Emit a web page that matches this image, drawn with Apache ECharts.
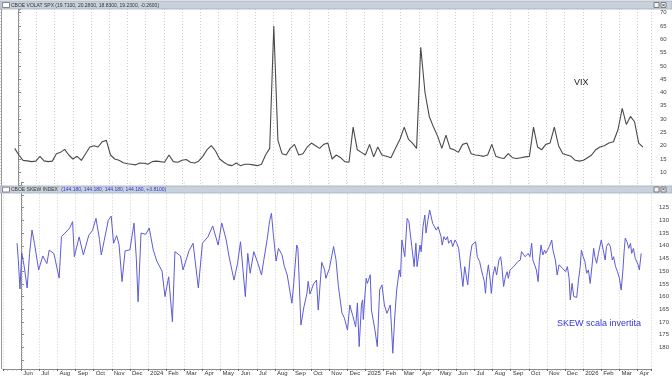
<!DOCTYPE html>
<html><head><meta charset="utf-8">
<script src="https://cdn.jsdelivr.net/npm/echarts@6/dist/echarts.min.js"></script>
<style>html,body{margin:0;padding:0;background:#fff}#c{width:672px;height:378px}</style>
</head><body><div id="c"></div>
<script>
// ---- data ----
// dates are day offsets from this start date
const startDate = [2023, 4, 26]; // 2023-05-26 (month 0-based)
const monthLabels = ['Jun','Jul','Aug','Sep','Oct','Nov','Dec','2024','Feb','Mar','Apr','May','Jun','Jul','Aug','Sep','Oct','Nov','Dec','2025','Feb','Mar','Apr','May','Jun','Jul','Aug','Sep','Oct','Nov','Dec','2026','Feb','Mar','Apr'];
const vixTicks = [10,15,20,25,30,35,40,45,50,55,60,65,70];
const skewTicks = [125,130,135,140,145,150,155,160,165,170,175,180];
// VIX, one value per week starting at startDate
const vixWeekly = [
 19.0,16.5,14.5,14.3,14.0,14.2,16.0,14.3,14.0,14.2,
 17.0,17.5,18.6,16.5,15.0,16.0,14.5,17.0,19.5,20.0,
 19.5,21.5,22.0,16.5,15.0,14.5,13.6,13.2,13.0,12.8,
 13.5,13.4,13.0,14.0,14.2,14.0,13.8,16.5,14.0,13.8,
 14.5,14.8,13.8,13.5,14.2,16.0,18.5,20.0,18.0,15.0,
 13.8,12.8,12.5,13.5,12.5,13.0,13.0,12.8,12.5,13.0,
 16.5,19.0,65.0,22.0,17.0,16.5,19.0,20.5,16.5,17.0,
 19.5,21.0,20.0,19.0,20.5,21.0,15.0,16.5,15.5,14.0,
 13.8,27.0,18.5,17.5,16.5,20.5,15.8,19.5,16.5,16.0,
 15.5,19.0,22.5,27.0,22.5,21.0,19.0,57.0,40.0,31.0,
 27.0,23.5,19.0,24.0,19.0,18.5,17.5,20.5,21.0,17.0,
 16.5,16.3,16.0,16.5,20.5,16.0,15.5,15.2,17.0,15.5,
 15.2,15.5,15.8,16.0,27.0,19.5,18.5,20.5,21.0,27.0,
 20.0,17.0,16.5,16.0,14.5,14.2,14.5,15.5,16.5,18.5,
 19.5,20.0,21.0,21.5,26.0,34.0,28.0,31.0,29.0,21.0,
 19.5];
// SKEW index: [day offset, value]
const skewPoints = [
 [-1,139],[1,145],[4,157],[7,142.8],[11,148],[16,156.6],[20,143],[24,133.8],[28,139],[35,149.5],
 [42,144],[49,147],[53,141.7],[61,143],[70,152.7],[74,136.4],[80,135],[88,133],[93,130.5],[96,144.3],
 [104,136.5],[111,143.6],[120,135.8],[126,134],[132,129.2],[138,137.5],[141,143.6],[146,138],[153,130],[158,128.3],
 [162,139],[167,136],[171,139.5],[176,154.1],[181,142],[189,141.6],[196,131.1],[200,145],[203,162],[208,135],
 [216,135.5],[222,133],[229,141.7],[235,146],[244,150],[249,160],[255,152.2],[261,169.9],[265,142.3],[274,144],
 [278,149.5],[288,142],[295,139],[304,156.6],[311,139],[320,136.5],[328,132.2],[337,139.7],[343,131],[350,137],
 [356,144.8],[364,153.5],[370,147],[375,138.4],[383,160],[387,143],
 [391,150.8],[397,142.3],[404,147],[410,151.5],[414,145.5],[420,137],[424,130],[427,127.2],[430,135],[435,146],
 [439,141],[445,143.5],[449,148],[454,151.5],[462,162.6],[465,155],[470,139.7],[472,141],[477,171.2],[482,164],
 [487,158.7],[489,154],[492,159],[498,155],[503,153.5],[506,165.3],[512,146.5],[517,149.5],[519,152.8],[525,149],
 [532,140.3],[536,145.5],[540,156],[546,166.6],[550,168.5],[555,173.2],[559,163.3],[564,167.5],[569,171.9],[572,162.5],
 [575,179.7],[579,163],[581,161.3],[582,169],[587,152.8],[589,154.8],[594,151.4],[596,165.3],[599,164.6],[602,173.2],
 [606,179.7],[610,157.4],[614,155.4],[618,163.3],[622,166.6],[627,163.3],[629,171.9],[631,182.3],[634,168],[637,157.4],
 [641,149.5],[643,152.2],[645,137.7],[650,144.3],[654,129.2],[657,130.5],[662,140.3],[666,148.2],[669,139],[671,148.2],
 [676,139.7],[678,142.3],[681,132.5],[684,127.9],[686,135],[689,130],[692,125.9],[697,131.2],[703,133.8],[706,132.5],
 [711,136.4],[713,139.7],
 [716,136.4],[719,137.7],[722,136.4],[724,139],[728,137.7],[731,140.3],[735,137.7],[738,139],[741,141],[745,149.5],
 [748,156],[751,148.2],[753,148.9],[756,155.4],[760,144.3],[763,139.7],[765,140.3],[769,138.4],[772,144.3],[776,146.2],
 [779,149.5],[782,152.2],[784,154.1],[786,158.7],[788,152.2],[791,147.5],[794,153.5],[796,158.7],[799,151.5],[802,148.2],
 [805,151.5],[809,145.6],[812,144.3],[814,148.2],[817,156],[820,152.2],[823,150.2],[825,152.8],[828,149.5],[831,150.2],
 [834,148.2],[837,147.5],[841,146.2],[845,145.6],[847,142.3],[850,143],[853,144.3],[855,144.9],[858,143],[861,144.3],
 [864,139],[866,145.6],[869,147.5],[872,149.5],[875,154.1],[877,146.2],[880,139.7],[883,143.6],[886,141.7],[888,143],
 [891,141.7],[894,140.3],[898,137.7],[900,141.7],[904,145.6],[907,151.5],[910,147.5],[913,146.9],[916,148.9],[918,148.2],
 [921,150.2],[924,148.2],[927,152.8],[929,161.3],[932,154.8],[935,160],[940,160.3],[943,153.5],[946,148.2],[948,141.7],
 [951,144.3],[954,146.2],[957,150.8],[960,149.5],[963,154.8],[966,148.2],[969,141],[971,144.3],[974,146.9],[977,143],
 [980,143.6],[982,137.7],[985,141.7],[988,145.6],[990,140.3],[993,139],[996,140.3],[999,145.6],[1001,144.3],[1004,148.2],
 [1007,150.2],[1010,152.8],[1011,152.2],[1013,157.4],[1016,149.5],[1018,142.3],[1020,137],[1023,138.4],[1026,141],[1029,139],
 [1031,143],[1034,141],[1037,144.9],[1040,145.6],[1042,147.5],[1044,149.5],[1047,143]
];

// ---- time scale: day offset -> month index (0 = June 2023) ----
const base = Date.UTC(startDate[0], startDate[1], startDate[2]);
function monthIndex(day) {
  const d = new Date(base + day * 86400000);
  const y = d.getUTCFullYear(), m = d.getUTCMonth(), dd = d.getUTCDate();
  const dim = new Date(Date.UTC(y, m + 1, 0)).getUTCDate();
  return (y - 2023) * 12 + (m - 5) + (dd - 1) / dim;
}
const vixData = vixWeekly.map((v, i) => [monthIndex(7 * i), v]);
const skewData = skewPoints.map(p => [monthIndex(p[0]), p[1]]);

// ---- layout ----
const X0 = 6.2, XM = 18.56, RIGHT = 651;
const gridLeft = X0 - XM;
const gridWidth = RIGHT - gridLeft;
const xMax = -1 + gridWidth / XM;
const FONT = 'Arial, "Liberation Sans", sans-serif';

function monthFmt(v) {
  const r = Math.round(v);
  if (Math.abs(v - r) > 1e-6 || r < 0 || r >= monthLabels.length) return '';
  return monthLabels[r];
}
function tickFmt(list) {
  return v => list.some(t => Math.abs(t - v) < 1e-6) ? String(Math.round(v)) : '';
}
const splitLine = {show: true, lineStyle: {color: '#cfcfcf', type: [1, 2], width: 1}};
const yCommon = {
  type: 'value', position: 'right', interval: 5,
  axisLine: {show: true, lineStyle: {color: '#8a8a8a', width: 1}},
  axisTick: {show: true, length: 3, lineStyle: {color: '#8a8a8a'}},
  minorTick: {show: true, splitNumber: 5, length: 1.5, lineStyle: {color: '#aaa'}},
  splitLine: {show: false},
};

const chart = echarts.init(document.getElementById('c'), null, {renderer: 'canvas', width: 672, height: 378});
chart.setOption({
  animation: false,
  backgroundColor: '#ffffff',
  grid: [
    {left: gridLeft, top: 9, width: gridWidth, height: 176.6},
    {left: gridLeft, top: 182.3, width: gridWidth, height: 186.7}
  ],
  xAxis: [
    {type: 'value', gridIndex: 0, min: -1, max: xMax, interval: 1,
     axisLine: {show: false}, axisTick: {show: false}, axisLabel: {show: false}, splitLine: splitLine},
    {type: 'value', gridIndex: 1, min: -1, max: xMax, interval: 1,
     axisLine: {show: true, onZero: false, lineStyle: {color: '#8a8a8a'}},
     axisTick: {show: true, length: 2, lineStyle: {color: '#666'}},
     minorTick: {show: true, splitNumber: 4, length: 1.5, lineStyle: {color: '#999'}},
     axisLabel: {show: true, fontSize: 6, fontFamily: FONT, color: '#333', align: 'left', margin: 1.5, padding: [0, 0, 0, 2], formatter: monthFmt},
     splitLine: splitLine}
  ],
  yAxis: [
    Object.assign({}, yCommon, {gridIndex: 0, min: 5, max: 5 + 176.6 / 2.66,
      axisLabel: {fontSize: 6, fontFamily: FONT, color: '#444', margin: 9, formatter: tickFmt(vixTicks)}}),
    Object.assign({}, yCommon, {gridIndex: 1, inverse: true, min: 115, max: 115 + 186.7 / 2.54,
      axisLabel: {fontSize: 6, fontFamily: FONT, color: '#444', margin: 8, formatter: tickFmt(skewTicks)}})
  ],
  series: [
    {type: 'line', xAxisIndex: 0, yAxisIndex: 0, data: vixData, symbol: 'none', silent: true,
     lineStyle: {color: '#4a4a4a', width: 1.1}},
    {type: 'line', xAxisIndex: 1, yAxisIndex: 1, data: skewData, symbol: 'none', silent: true,
     lineStyle: {color: '#5c5cd8', width: 1}}
  ],
  graphic: [
    // left frame
    {type: 'line', z: 100, shape: {x1: 1.5, y1: 9, x2: 1.5, y2: 369}, style: {stroke: '#9a9a9a', lineWidth: 1}},
    // top panel header
    {type: 'rect', z: 100, shape: {x: 0, y: 1, width: 672, height: 8}, style: {fill: '#c9d2dc', stroke: '#a3afbc', lineWidth: 0.8}},
    {type: 'rect', z: 101, shape: {x: 2.5, y: 2.5, width: 7, height: 5}, style: {fill: '#ffffff', stroke: '#6f6f6f', lineWidth: 0.8}},
    {type: 'text', z: 101, x: 11, y: 5.2, style: {text: 'CBOE VOLAT SPX (19.7100, 20.2800, 18.8300, 19.2300, -0.2600)', fill: '#333', font: '5px ' + FONT, verticalAlign: 'middle', align: 'left'}},
    {type: 'rect', z: 101, shape: {x: 654, y: 2.5, width: 5, height: 5}, style: {fill: '#f2f2f2', stroke: '#666', lineWidth: 0.8}},
    {type: 'rect', z: 101, shape: {x: 661, y: 2.5, width: 5, height: 5}, style: {fill: '#f2f2f2', stroke: '#666', lineWidth: 0.8}},
    {type: 'text', z: 102, x: 663.5, y: 5.2, style: {text: '×', fill: '#222', font: '6px ' + FONT, verticalAlign: 'middle', align: 'center'}},
    // bottom panel header
    {type: 'rect', z: 100, shape: {x: 0, y: 186, width: 672, height: 7}, style: {fill: '#c9d2dc', stroke: '#a3afbc', lineWidth: 0.8}},
    {type: 'rect', z: 101, shape: {x: 2.5, y: 187.2, width: 7, height: 4.8}, style: {fill: '#ffffff', stroke: '#6f6f6f', lineWidth: 0.8}},
    {type: 'text', z: 101, x: 11, y: 189.7, style: {
      text: '{a|CBOE SKEW INDEX} {b|(144.180, 144.180, 144.180, 144.180, +3.8100)}',
      rich: {a: {fill: '#333', fontSize: 5, fontFamily: FONT}, b: {fill: '#3333cc', fontSize: 5, fontFamily: FONT}},
      verticalAlign: 'middle', align: 'left'}},
    {type: 'rect', z: 101, shape: {x: 654, y: 187, width: 5, height: 5}, style: {fill: '#f2f2f2', stroke: '#666', lineWidth: 0.8}},
    {type: 'rect', z: 101, shape: {x: 661, y: 187, width: 5, height: 5}, style: {fill: '#f2f2f2', stroke: '#666', lineWidth: 0.8}},
    {type: 'text', z: 102, x: 663.5, y: 189.6, style: {text: '×', fill: '#222', font: '6px ' + FONT, verticalAlign: 'middle', align: 'center'}},
    // annotations
    {type: 'text', z: 101, x: 574, y: 82.5, style: {text: 'VIX', fill: '#1a1a1a', font: '9px ' + FONT, verticalAlign: 'middle', align: 'left'}},
    {type: 'text', z: 101, x: 557, y: 323.7, style: {text: 'SKEW scala invertita', fill: '#3535d8', font: '9px ' + FONT, verticalAlign: 'middle', align: 'left'}}
  ]
});
</script>
</body></html>
